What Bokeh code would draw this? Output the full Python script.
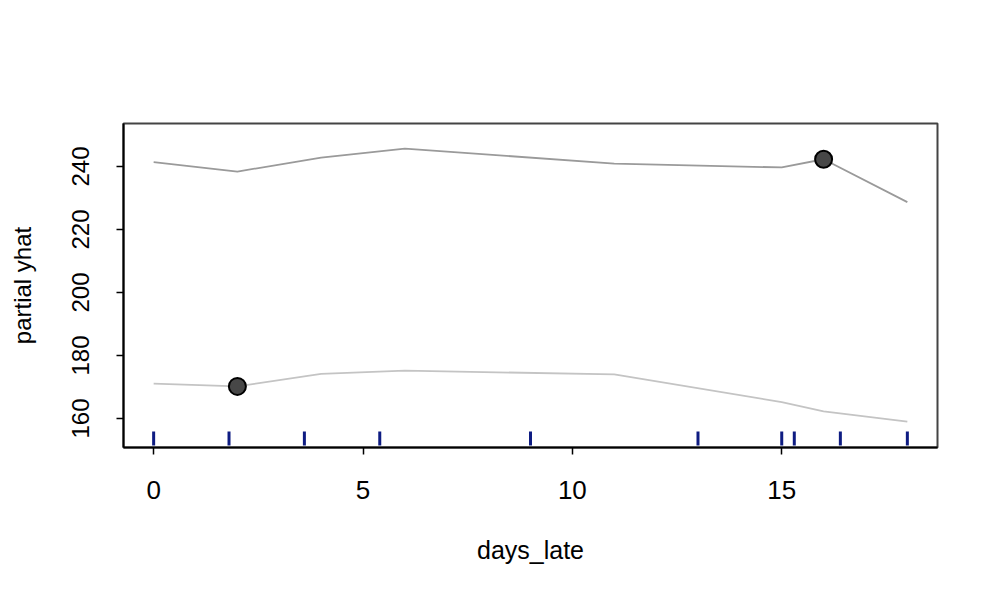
from bokeh.plotting import figure
from bokeh.models import FixedTicker, Range1d
from bokeh.embed import file_html
from bokeh.resources import INLINE

# ---- data ----
x_grid = [0, 2, 4, 6, 11, 15, 16, 18]
curve_high = [241.4, 238.4, 242.8, 245.7, 240.9, 239.7, 242.3, 228.7]
curve_low = [171.1, 170.2, 174.2, 175.2, 174.0, 165.2, 162.3, 159.0]
obs_x = [16, 2]
obs_y = [242.3, 170.2]
rug_x = [0, 1.8, 3.6, 5.4, 9.0, 13.0, 15.0, 15.3, 16.4, 18.0]
x_ticks = [0, 5, 10, 15]
y_ticks = [160, 180, 200, 220, 240]

# ---- styling / layout ----
FONT = "Liberation Sans"
X_RANGE = (-0.72, 18.72)
Y_RANGE = (150.8, 253.65)
RUG_Y0, RUG_Y1 = 151.4, 155.9

p = figure(width=984, height=584, output_backend="svg", toolbar_location=None,
           x_range=Range1d(*X_RANGE), y_range=Range1d(*Y_RANGE))
p.min_border_left = 123
p.min_border_top = 123
p.min_border_right = 47
p.min_border_bottom = 137

p.xgrid.visible = False
p.ygrid.visible = False
p.background_fill_color = "white"
p.border_fill_color = "white"
p.outline_line_color = "#444444"
p.outline_line_width = 2

for ax in (p.xaxis, p.yaxis):
    ax.axis_line_color = "black"
    ax.axis_line_width = 2
    ax.major_tick_line_color = "black"
    ax.major_tick_line_width = 1.5
    ax.major_tick_in = 0
    ax.major_tick_out = 7
    ax.minor_tick_line_color = None
    ax.major_label_text_font = FONT
    ax.major_label_text_color = "black"
    ax.axis_label_text_font = FONT
    ax.axis_label_text_font_style = "normal"
    ax.axis_label_text_color = "black"

p.xaxis.ticker = FixedTicker(ticks=x_ticks)
p.yaxis.ticker = FixedTicker(ticks=y_ticks)
p.xaxis.major_label_text_font_size = "26px"
p.yaxis.major_label_text_font_size = "24px"
p.xaxis.axis_label_text_font_size = "25px"
p.yaxis.axis_label_text_font_size = "24px"
p.yaxis.major_label_orientation = "vertical"
p.xaxis.axis_label = "days_late"
p.yaxis.axis_label = "partial yhat"
p.xaxis.major_label_standoff = 26
p.xaxis.axis_label_standoff = 34
p.yaxis.major_label_standoff = 27
p.yaxis.axis_label_standoff = 34

# ICE curves
p.line(x_grid, curve_high, line_color="#9A9A9A", line_width=1.8)
p.line(x_grid, curve_low, line_color="#C4C4C4", line_width=1.8)

# rug of x quantiles
p.segment(x0=rug_x, y0=[RUG_Y0] * len(rug_x), x1=rug_x, y1=[RUG_Y1] * len(rug_x),
          line_color="#0E1C82", line_width=3)

# observed points
p.scatter(obs_x, obs_y, size=17, fill_color="#474747", line_color="black", line_width=2)

open("out.html", "w").write(file_html(p, INLINE))
